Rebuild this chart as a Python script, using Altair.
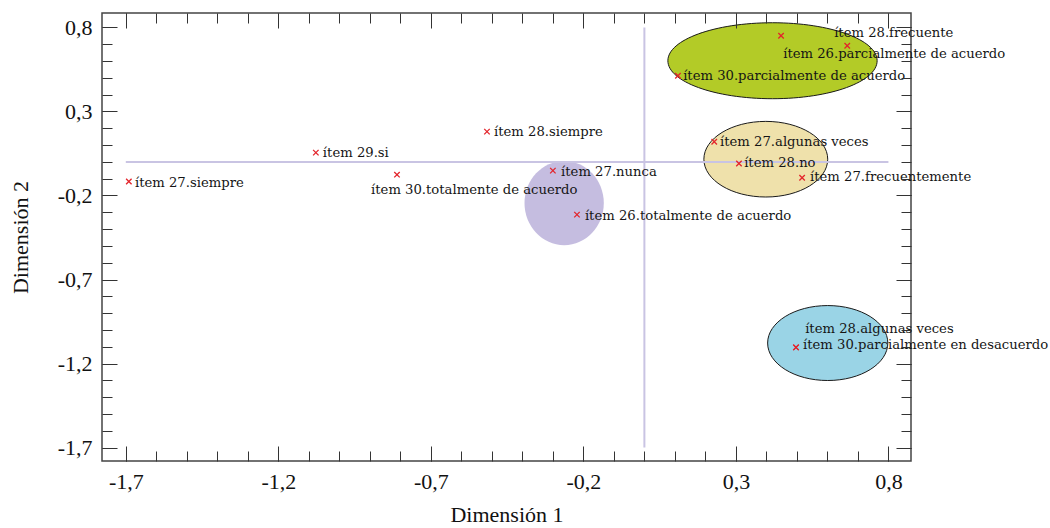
import altair as alt
import pandas as pd

# ---------------- data ----------------
item_labels = [
    "ítem 28.frecuente",
    "ítem 26.parcialmente de acuerdo",
    "ítem 30.parcialmente de acuerdo",
    "ítem 27.algunas veces",
    "ítem 28.no",
    "ítem 27.frecuentemente",
    "ítem 28.algunas veces",
    "ítem 30.parcialmente en desacuerdo",
    "ítem 28.siempre",
    "ítem 29.si",
    "ítem 27.siempre",
    "ítem 30.totalmente de acuerdo",
    "ítem 27.nunca",
    "ítem 26.totalmente de acuerdo",
]
dim1 = [0.448, 0.665, 0.110, 0.229, 0.310, 0.517, 0.497, 0.497,
        -0.516, -1.077, -1.690, -0.811, -0.300, -0.221]
dim2 = [0.751, 0.691, 0.513, 0.120, -0.010, -0.094, -1.104, -1.104,
        0.180, 0.055, -0.117, -0.076, -0.052, -0.314]
# where each label sits (data units, left edge / vertical middle)
label_dim1 = [0.622, 0.455, 0.127, 0.248, 0.327, 0.543, 0.527, 0.520,
              -0.493, -1.054, -1.670, -0.896, -0.273, -0.195]
label_dim2 = [0.768, 0.644, 0.513, 0.120, -0.004, -0.088, -0.997, -1.092,
              0.180, 0.055, -0.123, -0.165, -0.058, -0.320]

# grouping ellipses (data units)
group_names = ["grupo A", "grupo B", "grupo C", "grupo D"]
group_cx = [0.420, 0.398, 0.601, -0.263]
group_cy = [0.602, 0.016, -1.078, -0.245]
group_rx = [0.343, 0.203, 0.197, 0.130]
group_ry = [0.226, 0.225, 0.223, 0.251]

# reference axes through the origin
ref_from = -1.7
ref_to = 0.8

major_ticks = [-1.7, -1.2, -0.7, -0.2, 0.3, 0.8]
minor_ticks = [round(-1.7 + 0.1 * i, 1) for i in range(26)]

# ---------------- styles ----------------
group_fill = ["#b3cb27", "#efe1ab", "#9ad4e6", "#c5bde0"]
group_stroke = ["#1a1a1a", "#1a1a1a", "#1a1a1a", None]
W, H = 809, 448
XDOM = [-1.778, 0.874]
YDOM = [-1.780, 0.886]
PX_X = W / (XDOM[1] - XDOM[0])
PX_Y = H / (YDOM[1] - YDOM[0])
AX_FONT = "Liberation Serif"
LBL_FONT = "DejaVu Serif"

xs = alt.Scale(domain=XDOM, nice=False, zero=False)
ys = alt.Scale(domain=YDOM, nice=False, zero=False)
lab_expr = "(datum.value < 0 ? '-' : '') + replace(format(abs(datum.value), '.1f'), '.', ',')"
common = dict(grid=False, domain=False, tickColor="#333", tickWidth=1, zindex=1)


def ax(orient, values, size, labels=False, title=None, **kw):
    args = dict(common)
    args.update(kw)
    if labels:
        return alt.Axis(orient=orient, values=values, offset=-size, tickSize=size,
                        labelExpr=lab_expr, labelFont=AX_FONT, labelFontSize=22,
                        labelColor="#111", labelOverlap=False, labelFlush=False,
                        title=title, titleFont=AX_FONT, titleFontSize=22,
                        titleFontWeight="normal", titleColor="#111", **args)
    return alt.Axis(orient=orient, values=values, offset=-size, tickSize=size,
                    labels=False, title=None, **args)


x_main = ax("bottom", major_ticks, 15, labels=True, title="Dimensión 1",
            labelPadding=10, titlePadding=12)
x_min = ax("bottom", minor_ticks, 10)
x_top = ax("top", major_ticks, 15)
x_top_min = ax("top", minor_ticks, 10)
y_main = ax("left", major_ticks, 15, labels=True, title="Dimensión 2",
            labelPadding=10, titlePadding=25)
y_min = ax("left", minor_ticks, 10)
y_right = ax("right", major_ticks, 15)
y_right_min = ax("right", minor_ticks, 10)


def ellipse_path(k):
    c = 0.5523
    return (f"M -1 0 C -1 {-k*c:.4f} {-c:.4f} {-k:.4f} 0 {-k:.4f} "
            f"C {c:.4f} {-k:.4f} 1 {-k*c:.4f} 1 0 "
            f"C 1 {k*c:.4f} {c:.4f} {k:.4f} 0 {k:.4f} "
            f"C {-c:.4f} {k:.4f} -1 {k*c:.4f} -1 0 Z")


axis_pairs = [(x_top, y_right), (x_top_min, y_right_min), (None, None), (None, None)]
ellipse_layers = []
for i in range(len(group_names)):
    rx_px = group_rx[i] * PX_X
    ry_px = group_ry[i] * PX_Y
    df = pd.DataFrame({"grupo": [group_names[i]], "cx": [group_cx[i]], "cy": [group_cy[i]]})
    mk = dict(shape=ellipse_path(ry_px / rx_px), filled=True, fill=group_fill[i],
              size=(2 * rx_px) ** 2, opacity=1, fillOpacity=1)
    if group_stroke[i]:
        mk.update(stroke=group_stroke[i], strokeWidth=1, strokeOpacity=1)
    else:
        mk.update(strokeWidth=0)
    xa, ya = axis_pairs[i]
    ellipse_layers.append(
        alt.Chart(df).mark_point(**mk).encode(
            x=alt.X("cx:Q", scale=xs, axis=xa),
            y=alt.Y("cy:Q", scale=ys, axis=ya),
        )
    )

ref_h = pd.DataFrame({"a": [ref_from], "b": [ref_to], "c": [0.0]})
ref_v = pd.DataFrame({"a": [ref_from], "b": [ref_to], "c": [0.0]})
line_h = alt.Chart(ref_h).mark_rule(color="#c9c4e3", strokeWidth=2).encode(
    x=alt.X("a:Q", scale=xs, axis=x_main), x2="b:Q",
    y=alt.Y("c:Q", scale=ys, axis=y_main),
)
line_v = alt.Chart(ref_v).mark_rule(color="#c9c4e3", strokeWidth=2).encode(
    y=alt.Y("a:Q", scale=ys, axis=y_min), y2="b:Q",
    x=alt.X("c:Q", scale=xs, axis=x_min),
)

pts = pd.DataFrame({"item": item_labels, "d1": dim1, "d2": dim2,
                    "l1": label_dim1, "l2": label_dim2})
marks = alt.Chart(pts).mark_point(
    shape="M -1 -1 L 1 1 M -1 1 L 1 -1", filled=False, stroke="#e3242b",
    strokeWidth=1.3, size=30, opacity=1,
).encode(
    x=alt.X("d1:Q", scale=xs, axis=None),
    y=alt.Y("d2:Q", scale=ys, axis=None),
)
texts = alt.Chart(pts).mark_text(
    align="left", baseline="middle", font=LBL_FONT, fontSize=13.2, color="#151515",
).encode(
    x=alt.X("l1:Q", scale=xs, axis=None),
    y=alt.Y("l2:Q", scale=ys, axis=None),
    text="item:N",
)

chart = alt.layer(*ellipse_layers, line_h, line_v, marks, texts).resolve_axis(
    x="independent", y="independent"
).properties(
    width=W, height=H,
    autosize=alt.AutoSizeParams(type="none"),
    padding={"left": 102, "top": 13, "right": 139, "bottom": 70},
    background="white",
).configure_view(stroke="#444", strokeWidth=1.5)

chart.save("out.html", embed_options={"renderer": "svg", "actions": False})
